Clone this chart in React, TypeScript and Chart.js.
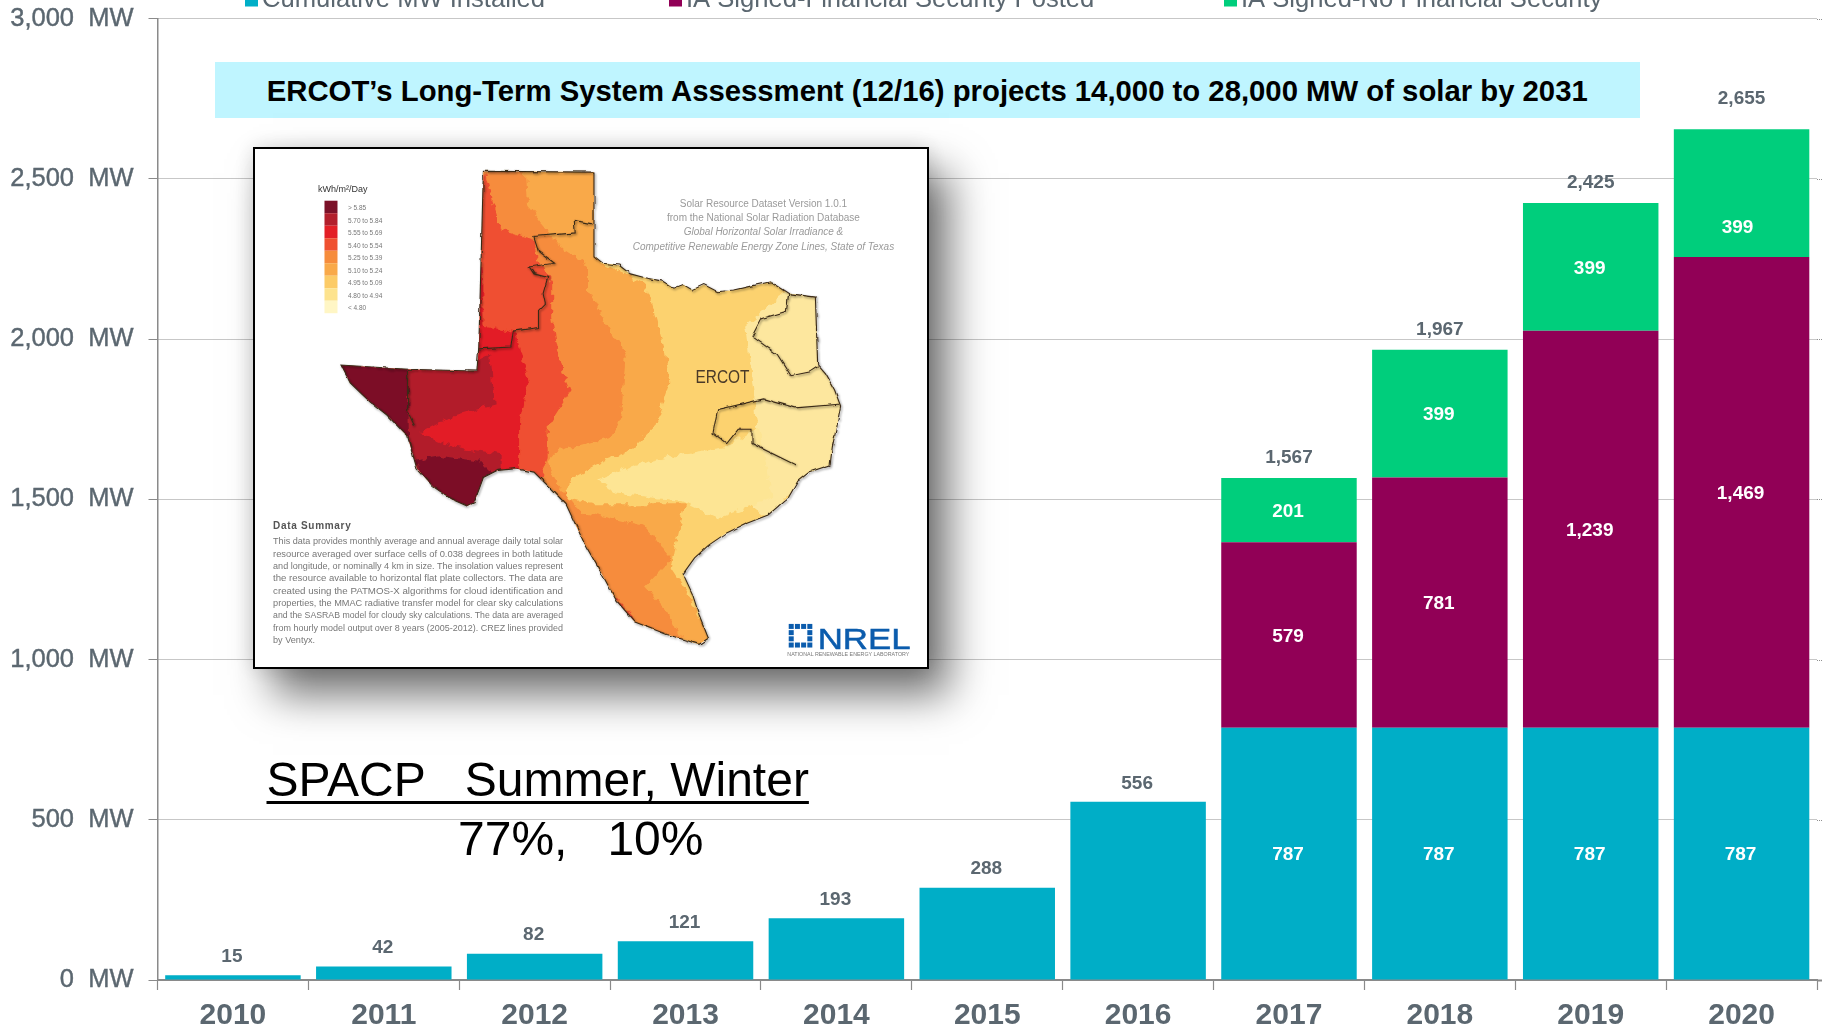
import React, { useEffect, useRef } from "react";
import { Chart, registerables } from "chart.js";

Chart.register(...registerables);

const years = ["2010", "2011", "2012", "2013", "2014", "2015", "2016", "2017", "2018", "2019", "2020"];
const installed = [15, 42, 82, 121, 193, 288, 556, 787, 787, 787, 787];
const signedPosted = [null, null, null, null, null, null, null, 579, 781, 1239, 1469];
const signedNoSecurity = [null, null, null, null, null, null, null, 201, 399, 399, 399];
const totals = [15, 42, 82, 121, 193, 288, 556, 1567, 1967, 2425, 2655];
const legendNames = ["Cumulative MW Installed", "IA Signed-Financial Security Posted", "IA Signed-No Financial Security"];

const TEAL = "#00AEC7";
const PURPLE = "#910056";
const GREEN = "#00CE7C";
const GREY = "#5B6770";
const GRID = "#8F8F8F";
const FONT = '"Liberation Sans", Arial, sans-serif';

const banner = "ERCOT\u2019s Long-Term System Assessment (12/16) projects 14,000 to 28,000 MW of solar by 2031";

const fmt = (v: number) => v.toLocaleString("en-US");

const barLabels = {
  id: "barLabels",
  afterDatasetsDraw(chart: any) {
    const { ctx } = chart;
    ctx.save();
    ctx.textAlign = "center";
    ctx.textBaseline = "middle";
    ctx.font = `bold 19px ${FONT}`;
    ctx.fillStyle = "#fff";
    chart.data.datasets.forEach((ds: any, di: number) => {
      const meta = chart.getDatasetMeta(di);
      ds.data.forEach((v: number | null, i: number) => {
        if (v == null || i < 7) return;
        const c = meta.data[i].getCenterPoint();
        const shifted = di === 2 && i === 10;
        ctx.fillText(fmt(v), c.x + (shifted ? -4 : -1), c.y + 1.5 + (shifted ? 33 : 0));
      });
    });
    ctx.fillStyle = GREY;
    const y = chart.scales.y;
    const top = chart.getDatasetMeta(0);
    totals.forEach((t, i) => {
      const gap = i === 10 ? 30.5 : i < 7 ? 18.5 : 20;
      ctx.fillText(fmt(t), top.data[i].x - (i < 7 ? 1 : 0), y.getPixelForValue(t) - gap);
    });
    ctx.restore();
  },
};

const topLegend = {
  id: "topLegend",
  afterDraw(chart: any) {
    const { ctx } = chart;
    const xs = [245, 669, 1224];
    ctx.save();
    ctx.textBaseline = "alphabetic";
    ctx.textAlign = "left";
    ctx.font = `25.6px ${FONT}`;
    chart.data.datasets.forEach((ds: any, i: number) => {
      ctx.fillStyle = ds.backgroundColor;
      ctx.fillRect(xs[i], -6, 13, 12.5);
      ctx.fillStyle = GREY;
      ctx.fillText(ds.label, xs[i] + 17, 7);
    });
    ctx.restore();
  },
};

// the reference's rules run on past the last category to the page edge
const ruleExtension = {
  id: "ruleExtension",
  beforeDatasetsDraw(chart: any) {
    const { ctx, chartArea, width } = chart;
    const y = chart.scales.y;
    ctx.save();
    y.ticks.forEach((t: any) => {
      const py = Math.round(y.getPixelForValue(t.value)) + 0.5;
      ctx.strokeStyle = t.value === 0 ? "#8A8A8A" : GRID;
      ctx.lineWidth = t.value === 0 ? 2 : 1;
      ctx.setLineDash(t.value === 0 ? [] : [1, 1]);
      ctx.beginPath();
      ctx.moveTo(chartArea.right, py);
      ctx.lineTo(width, py);
      ctx.stroke();
    });
    ctx.restore();
  },
};

// ---- inset map artwork (decorative picture, coordinates in a 1568x1568 working space) ----
const sx = (x: number) => (x * 720) / 1568;
const sy = (y: number) => (y * 560) / 1568;
const P = (pts: number[][]) => pts.map(([x, y]) => `${sx(x).toFixed(1)},${sy(y).toFixed(1)}`).join(" ");

const OUTLINE = [[530,88],[771,90],[771,325],[790,345],[825,350],[850,375],[880,385],[920,395],[945,415],[965,405],[985,420],[1010,405],[1040,425],[1075,420],[1110,410],[1155,397],[1195,430],[1253,440],[1258,630],[1275,655],[1295,700],[1308,745],[1300,800],[1290,860],[1285,910],[1240,930],[1215,955],[1195,1000],[1150,1050],[1100,1075],[1060,1100],[1020,1135],[990,1170],[965,1215],[985,1270],[1000,1330],[1020,1395],[1000,1412],[930,1385],[860,1350],[820,1290],[790,1220],[750,1130],[710,1020],[680,980],[640,930],[600,920],[560,925],[530,945],[510,1015],[495,1025],[460,1005],[420,970],[385,920],[365,830],[320,770],[280,730],[240,680],[220,630],[365,642],[516,647],[520,580]];
const LIGHT_E = [[1100,520],[1190,420],[1270,430],[1270,640],[1320,740],[1300,920],[1200,990],[1150,1060],[1090,1000],[1130,850],[1120,720]];
const LIGHT_C = [[780,950],[860,910],[960,880],[1060,860],[1130,800],[1160,1000],[1040,1060],[960,1010],[820,990]];
const ORANGE1 = [[500,80],[780,80],[780,340],[880,400],[905,500],[925,590],[935,680],[905,800],[850,870],[790,900],[720,950],[705,1000],[770,1020],[970,1020],[950,1130],[940,1200],[980,1280],[1030,1420],[200,1420],[200,600]];
const ORANGE2 = [[500,80],[620,80],[625,180],[700,300],[760,350],[760,420],[790,500],[840,600],[830,780],[810,830],[690,870],[670,900],[690,960],[740,1040],[880,1080],[940,1170],[880,1250],[930,1320],[970,1420],[200,1420],[200,600]];
const RED1 = [[500,80],[530,80],[550,170],[570,250],[640,280],[650,340],[680,400],[680,500],[700,640],[720,700],[670,800],[670,890],[650,960],[700,1040],[740,1130],[800,1260],[860,1340],[600,1420],[200,1420],[200,600]];
const RED2 = [[500,290],[520,300],[530,400],[530,520],[600,540],[630,680],[610,780],[610,930],[400,1100],[200,900],[200,600]];
const RED3 = [[200,600],[516,620],[545,600],[555,740],[450,780],[390,820],[470,860],[570,880],[570,940],[400,1100]];
const DARK1 = [[200,620],[365,630],[368,830],[380,920],[300,900],[200,700]];
const DARK2 = [[380,900],[440,885],[520,900],[550,940],[510,1040],[440,1040]];
const CREZ_A = [[767,235],[728,225],[730,260],[640,270],[650,310],[685,345],[630,355],[640,375],[670,385],[660,430],[665,460],[650,480],[650,525],[595,535],[590,580],[520,585]];
const CREZ_B = [[365,642],[365,760],[380,800]];
const CREZ_C = [[1195,430],[1190,480],[1135,500],[1115,550],[1170,600],[1200,660],[1240,650],[1258,635]];
const CREZ_D = [[1305,740],[1210,750],[1140,725],[1040,755],[1030,820],[1060,850],[1085,810],[1115,810],[1115,850],[1210,910]];

const scale = ["#7B1128", "#B21F2C", "#E31F26", "#EF5030", "#F68C3C", "#F9A949", "#FCCB66", "#FDE38E", "#FFF6C5"];
const scaleNames = ["> 5.85", "5.70 to 5.84", "5.55 to 5.69", "5.40 to 5.54", "5.25 to 5.39", "5.10 to 5.24", "4.95 to 5.09", "4.80 to 4.94", "< 4.80"];
const creditLines = [
  "Solar Resource Dataset Version 1.0.1",
  "from the National Solar Radiation Database",
  "Global Horizontal Solar Irradiance &",
  "Competitive Renewable Energy Zone Lines, State of Texas",
];
const summaryLines = [
  "This data provides monthly average and annual average daily total solar",
  "resource averaged over surface cells of 0.038 degrees in both latitude",
  "and longitude, or nominally 4 km in size. The insolation values represent",
  "the resource available to horizontal flat plate collectors. The data are",
  "created using the PATMOS-X algorithms for cloud identification and",
  "properties, the MMAC radiative transfer model for clear sky calculations",
  "and the SASRAB model for cloudy sky calculations. The data are averaged",
  "from hourly model output over 8 years (2005-2012). CREZ lines provided",
  "by Ventyx.",
];

function TexasMap() {
  return (
    <svg width={720} height={560} viewBox="0 0 720 560" style={{ position: "absolute", left: 240, top: 140, overflow: "visible" }}>
      <defs>
        <clipPath id="tx"><polygon points={P(OUTLINE)} /></clipPath>
        <filter id="rough" x="-5%" y="-5%" width="110%" height="110%">
          <feTurbulence type="fractalNoise" baseFrequency="0.13" numOctaves="2" seed="4" result="n" />
          <feDisplacementMap in="SourceGraphic" in2="n" scale="9" xChannelSelector="R" yChannelSelector="G" />
        </filter>
        <filter id="jag" x="-5%" y="-5%" width="110%" height="110%">
          <feTurbulence type="fractalNoise" baseFrequency="0.12" numOctaves="1" seed="7" result="n" />
          <feDisplacementMap in="SourceGraphic" in2="n" scale="4" xChannelSelector="R" yChannelSelector="G" result="d" />
          <feDropShadow in="d" dx="1" dy="1.2" stdDeviation="0.8" floodColor="#000" floodOpacity="0.55" />
        </filter>
      </defs>
      <g clipPath="url(#tx)">
        <rect x={0} y={0} width={720} height={560} fill="#FCD26F" />
        <g filter="url(#rough)">
          <polygon points={P(LIGHT_E)} fill="#FDE79E" />
          <polygon points={P(LIGHT_C)} fill="#FDE594" />
          <polygon points={P(ORANGE1)} fill="#F9A949" />
          <polygon points={P(ORANGE2)} fill="#F68C3C" />
          <polygon points={P(RED1)} fill="#EF5030" />
          <polygon points={P(RED2)} fill="#E31F26" />
          <polygon points={P(RED3)} fill="#B21F2C" />
          <polygon points={P(DARK1)} fill="#7B1128" />
          <polygon points={P(DARK2)} fill="#7B1128" />
        </g>
      </g>
      <g filter="url(#jag)">
        <polygon points={P(OUTLINE)} fill="none" stroke="#3A2A18" strokeWidth={1.1} />
        {[CREZ_A, CREZ_B, CREZ_C, CREZ_D].map((l, i) => (
          <polyline key={i} points={P(l)} fill="none" stroke="#3A2A18" strokeWidth={1.1} />
        ))}
      </g>
      <text x={sx(992)} y={sy(680)} fontFamily={FONT} fontSize={19} fill="#4A3A28" textLength={54} lengthAdjust="spacingAndGlyphs">ERCOT</text>
      <text x={sx(170)} y={sy(145)} fontFamily={FONT} fontSize={9} fill="#333">kWh/m²/Day</text>
      {scale.map((c, i) => (
        <g key={c}>
          <rect x={sx(184)} y={sy(170 + i * 35)} width={13} height={12.5} fill={c} />
          <text x={sx(235)} y={sy(197 + i * 35)} fontFamily={FONT} fontSize={6.5} fill="#777">{scaleNames[i]}</text>
        </g>
      ))}
      {creditLines.map((t, i) => (
        <text key={t} x={sx(1140)} y={sy(187 + i * 40)} textAnchor="middle" fontFamily={FONT} fontSize={10} fontStyle={i > 1 ? "italic" : "normal"} fill="#9a9a9a">{t}</text>
      ))}
      <text x={sx(72)} y={sy(1090)} fontFamily={FONT} fontSize={10} fontWeight="bold" fill="#555" letterSpacing={0.7}>Data Summary</text>
      {summaryLines.map((t, i) => (
        <text key={t} x={sx(72)} y={sy(1132 + i * 34.5)} fontFamily={FONT} fontSize={9} fill="#777" textLength={i === 8 ? 42 : 290} lengthAdjust="spacingAndGlyphs">{t}</text>
      ))}
      <g fill="#0B5CAD">
        {[0, 1, 2, 3].map((a) => [0, 1, 2, 3].map((b) => ((a === 1 || a === 2) && (b === 1 || b === 2) ? null : (
          <rect key={`${a}${b}`} x={sx(1195) + a * 6.2} y={sy(1355) + b * 6.2} width={5} height={5} />
        ))))}
      </g>
      <text x={sx(1258)} y={sy(1424)} fontFamily={FONT} fontSize={30} fill="#0B5CAD" stroke="#0B5CAD" strokeWidth={0.5} textLength={93} lengthAdjust="spacingAndGlyphs">NREL</text>
      <text x={sx(1192)} y={sy(1444)} fontFamily={FONT} fontSize={5} fill="#777" textLength={122} lengthAdjust="spacingAndGlyphs">NATIONAL RENEWABLE ENERGY LABORATORY</text>
    </svg>
  );
}

export default function App() {
  const ref = useRef<HTMLCanvasElement | null>(null);
  useEffect(() => {
    const chart = new Chart(ref.current!, {
      type: "bar",
      data: {
        labels: years,
        datasets: [
          { label: legendNames[0], data: installed, backgroundColor: TEAL },
          { label: legendNames[1], data: signedPosted, backgroundColor: PURPLE },
          { label: legendNames[2], data: signedNoSecurity, backgroundColor: GREEN },
        ],
      },
      plugins: [ruleExtension, barLabels, topLegend],
      options: {
        animation: false,
        responsive: false,
        devicePixelRatio: 1,
        layout: { padding: { top: 18.7, left: 0, right: 5, bottom: 0 } },
        datasets: { bar: { barPercentage: 0.898, categoryPercentage: 1 } },
        plugins: { legend: { display: false }, tooltip: { enabled: false } },
        scales: {
          x: {
            stacked: true,
            afterFit(s: any) { s.height = 51; },
            grid: { drawOnChartArea: false, drawTicks: true, tickLength: 10, tickColor: "#8A8A8A", tickWidth: 1.2, offset: true },
            border: { color: "#8A8A8A", width: 2 },
            ticks: { color: GREY, font: { family: FONT, size: 30, weight: "bold" }, padding: 8, maxRotation: 0, autoSkip: false },
          },
          y: {
            stacked: true,
            min: 0,
            max: 3000,
            afterFit(s: any) { s.width = 157.5; s.paddingTop = 0; s.paddingBottom = 0; },
            grid: { color: GRID, lineWidth: 1, tickLength: 9, tickColor: "#8A8A8A", tickBorderDash: [0, 0], drawTicks: true },
            border: { color: "#8A8A8A", width: 1.5, dash: [1, 1] },
            ticks: {
              stepSize: 500,
              color: GREY,
              padding: 15,
              textStrokeColor: GREY,
              textStrokeWidth: 0.4,
              font: { family: FONT, size: 25.5 },
              callback: (v: any) => `${fmt(Number(v))}  MW`,
            },
          },
        },
      } as any,
    });
    return () => chart.destroy();
  }, []);

  return (
    <div style={{ position: "absolute", left: 0, top: 0, width: 1822, height: 1031, overflow: "hidden", background: "#fff", fontFamily: FONT }}>
      <canvas ref={ref} width={1822} height={1031} style={{ display: "block", width: 1822, height: 1031 }} />
      <div style={{ position: "absolute", left: 215, top: 62, width: 1424.5, height: 55.7, background: "#BFF5FF", color: "#000", fontWeight: "bold", fontSize: 29.3, lineHeight: "57px", textAlign: "center", whiteSpace: "nowrap" }}>
        {banner}
      </div>
      <div style={{ position: "absolute", left: 253, top: 147, width: 676, height: 522, boxSizing: "border-box", background: "#fff", border: "2.5px solid #000", boxShadow: "20px 26px 40px rgba(0,0,0,0.55), 0 0 20px rgba(0,0,0,0.15)" }} />
      <TexasMap />
      <div style={{ position: "absolute", left: 266.5, top: 751, color: "#000", fontSize: 48, lineHeight: "58px", textDecoration: "underline", textDecorationThickness: 3, textUnderlineOffset: 5, textDecorationSkipInk: "none", whiteSpace: "pre" }}>
        {"SPACP   Summer, Winter"}
      </div>
      <div style={{ position: "absolute", left: 458, top: 810, color: "#000", fontSize: 48, lineHeight: "58px", whiteSpace: "pre" }}>
        {"77%,   10%"}
      </div>
    </div>
  );
}
